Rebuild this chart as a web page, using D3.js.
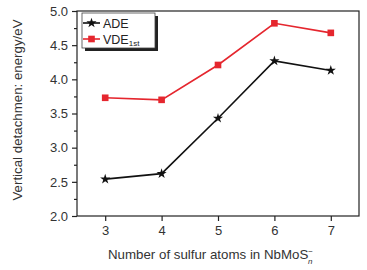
<!DOCTYPE html>
<html lang="en">
<head>
  <meta charset="utf-8">
  <title>NbMoS detachment energies</title>
  <script type="text/javascript" src="https://cdn.jsdelivr.net/npm/d3@7"></script>
  <style>
    body { margin: 0; background: #fff; }
    text { font-family: "Liberation Sans", Arial, sans-serif; }
  </style>
</head>
<body>
  <script>
    let sulfur = [3, 4, 5, 6, 7];
    let ade = [2.54, 2.62, 3.43, 4.27, 4.13];
    let vde = [3.73, 3.70, 4.21, 4.82, 4.68];
    let yTicks = [2.0, 2.5, 3.0, 3.5, 4.0, 4.5, 5.0];

    let w = 367, h = 270;
    let mLeft = 77, mRight = 359, mTop = 11, mBottom = 216;

    let svg = d3.select("body").append("svg")
      .attr("width", w).attr("height", h);

    let x = d3.scaleLinear().domain([2.5, 7.5]).range([mLeft, mRight]);
    let y = d3.scaleLinear().domain([2.0, 5.0]).range([mBottom, mTop]);

    // frame
    svg.append("rect")
      .attr("x", mLeft).attr("y", mTop)
      .attr("width", mRight - mLeft).attr("height", mBottom - mTop)
      .attr("fill", "none").attr("stroke", "#222").attr("stroke-width", 1.2);

    // x axis
    let xAxis = svg.append("g")
      .attr("transform", "translate(0," + mBottom + ")")
      .call(d3.axisBottom(x).tickValues(sulfur).tickSize(5).tickPadding(5).tickFormat(d3.format("d")));
    xAxis.select(".domain").remove();

    // y axis with minor ticks
    let yAxis = svg.append("g")
      .attr("transform", "translate(" + mLeft + ",0)")
      .call(d3.axisLeft(y).tickValues(yTicks).tickSize(5).tickPadding(4).tickFormat(d3.format(".1f")));
    yAxis.select(".domain").remove();
    svg.append("g")
      .attr("transform", "translate(" + mLeft + ",0)")
      .call(d3.axisLeft(y).tickValues([2.25, 2.75, 3.25, 3.75, 4.25, 4.75]).tickSize(3).tickFormat(""))
      .select(".domain").remove();

    svg.selectAll(".tick line").attr("stroke", "#222").attr("stroke-width", 1.2);
    svg.selectAll(".tick text").attr("font-size", 13).attr("fill", "#333")
      .style("font-family", "'Liberation Sans', Arial, sans-serif");

    let line = d3.line()
      .x(function(d, i) { return x(sulfur[i]); })
      .y(function(d) { return y(d); });

    let red = "#e5262e";

    svg.append("path").datum(vde)
      .attr("d", line).attr("fill", "none")
      .attr("stroke", red).attr("stroke-width", 1.6);
    svg.append("path").datum(ade)
      .attr("d", line).attr("fill", "none")
      .attr("stroke", "#111").attr("stroke-width", 1.6);

    let square = d3.symbol().type(d3.symbolSquare).size(44);
    let star = d3.symbol().type(d3.symbolStar).size(32);

    svg.selectAll("path.vde").data(vde).enter().append("path")
      .attr("class", "vde")
      .attr("d", square)
      .attr("transform", function(d, i) { return "translate(" + x(sulfur[i]) + "," + y(d) + ")"; })
      .attr("fill", red);

    svg.selectAll("path.ade").data(ade).enter().append("path")
      .attr("class", "ade")
      .attr("d", star)
      .attr("transform", function(d, i) { return "translate(" + x(sulfur[i]) + "," + y(d) + ")"; })
      .attr("fill", "#111");

    // legend
    let lg = svg.append("g");
    lg.append("rect").attr("x", 85).attr("y", 16).attr("width", 73).attr("height", 35).attr("fill", "#222");
    lg.append("rect").attr("x", 82).attr("y", 13).attr("width", 73).attr("height", 35)
      .attr("fill", "#fff").attr("stroke", "#444").attr("stroke-width", 0.8);

    lg.append("line").attr("x1", 83).attr("x2", 100).attr("y1", 23).attr("y2", 23)
      .attr("stroke", "#111").attr("stroke-width", 1.6);
    lg.append("path").attr("d", star).attr("transform", "translate(91.5,23)").attr("fill", "#111");
    lg.append("text").attr("x", 103).attr("y", 27.5).attr("font-size", 12.5).attr("fill", "#222").text("ADE");

    lg.append("line").attr("x1", 83).attr("x2", 100).attr("y1", 39).attr("y2", 39)
      .attr("stroke", red).attr("stroke-width", 1.6);
    lg.append("path").attr("d", square).attr("transform", "translate(91.5,39)").attr("fill", red);
    let vt = lg.append("text").attr("x", 103).attr("y", 43.5).attr("font-size", 12.5).attr("fill", "#222");
    vt.append("tspan").text("VDE");
    vt.append("tspan").attr("font-size", 8).attr("dy", 2).text("1st");

    // axis titles
    svg.append("text")
      .attr("transform", "translate(22," + 110 + ") rotate(-90)")
      .attr("text-anchor", "middle").attr("font-size", 13.3).attr("fill", "#333")
      .text("Vertical detachmen: energy/eV");

    let xt = svg.append("text")
      .attr("x", 108).attr("y", 258.5)
      .attr("font-size", 13.3).attr("fill", "#333");
    xt.append("tspan").text("Number of sulfur atoms in NbMoS");
    xt.append("tspan").attr("font-size", 8).attr("dy", -5).text("−");
    xt.append("tspan").attr("font-size", 8).attr("font-style", "italic").attr("dx", -5).attr("dy", 10).text("n");
  </script>
</body>
</html>
